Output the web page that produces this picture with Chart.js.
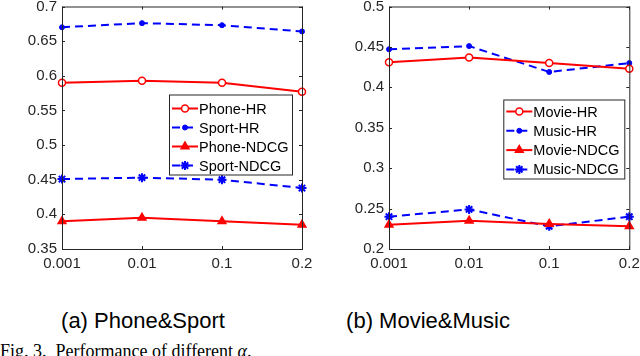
<!DOCTYPE html>
<html>
<head>
<meta charset="utf-8">
<script src="https://cdn.jsdelivr.net/npm/chart.js@4"></script>
<style>
  body { margin: 0; background: #fff; width: 640px; height: 356px; overflow: hidden; position: relative; }
  .box { position: absolute; top: 0; width: 320px; height: 280px; }
  .cap { position: absolute; top: 309px; font: 22px "Liberation Sans", Arial, sans-serif; color: #000; white-space: nowrap; transform: translateX(-50%); line-height: 24px; }
  .fig { position: absolute; left: 0; top: 342px; font: 18px "Liberation Serif", "Times New Roman", serif; color: #000; white-space: nowrap; line-height: 18px; }
</style>
</head>
<body>
<div class="box" style="left:0"><canvas id="chartA" width="320" height="280"></canvas></div>
<div class="box" style="left:320px"><canvas id="chartB" width="320" height="280"></canvas></div>
<div class="cap" style="left:143px">(a) Phone&amp;Sport</div>
<div class="cap" style="left:428px">(b) Movie&amp;Music</div>
<div class="fig">Fig. 3.&nbsp;&nbsp;Performance of different <i>α</i>.</div>
<script>
// alpha values on the x axis
var alphas = ["0.001", "0.01", "0.1", "0.2"];

// (a) Phone & Sport
var phoneHR = [0.590, 0.593, 0.590, 0.577];
var sportHR = [0.670, 0.676, 0.673, 0.664];
var phoneNDCG = [0.390, 0.395, 0.390, 0.385];
var sportNDCG = [0.451, 0.453, 0.450, 0.438];

// (b) Movie & Music
var movieHR = [0.431, 0.437, 0.430, 0.423];
var musicHR = [0.447, 0.451, 0.419, 0.430];
var movieNDCG = [0.230, 0.235, 0.231, 0.228];
var musicNDCG = [0.240, 0.249, 0.228, 0.240];

var RED = "#ff0000";
var BLUE = "#0000ff";
var AXIS = "#262626";
var FONT = "'Liberation Sans', Arial, sans-serif";

function redLine(label, data, style) {
  return {
    label: label, data: data, borderColor: RED, borderWidth: 2,
    pointStyle: style, pointRadius: style == "circle" ? 3.5 : 4.5,
    pointBorderColor: RED, pointBackgroundColor: style == "circle" ? "#fff" : RED,
    pointBorderWidth: 1.5, tension: 0
  };
}

function blueLine(label, data, style) {
  return {
    label: label, data: data, borderColor: BLUE, borderWidth: 2, borderDash: [8, 5],
    pointStyle: style, pointRadius: style == "circle" ? 2.5 : 4.5,
    pointBorderColor: BLUE, pointBackgroundColor: BLUE,
    pointBorderWidth: style == "star" ? 2 : 1, tension: 0
  };
}

// box around plot area with inward ticks, matlab style
var boxPlugin = {
  id: "matlabBox",
  afterDraw: function (chart) {
    var ctx = chart.ctx, a = chart.chartArea;
    var xs = chart.scales.x, ys = chart.scales.y;
    ctx.save();
    ctx.strokeStyle = AXIS;
    ctx.lineWidth = 1;
    ctx.setLineDash([]);
    ctx.strokeRect(a.left + 0.5, a.top + 0.5, a.right - a.left, a.bottom - a.top);
    ctx.beginPath();
    ys.ticks.forEach(function (t) {
      var y = Math.round(ys.getPixelForValue(t.value)) + 0.5;
      ctx.moveTo(a.left, y); ctx.lineTo(a.left + 3, y);
      ctx.moveTo(a.right, y); ctx.lineTo(a.right - 3, y);
    });
    xs.ticks.forEach(function (t, i) {
      var x = Math.round(xs.getPixelForTick(i)) + 0.5;
      ctx.moveTo(x, a.bottom); ctx.lineTo(x, a.bottom - 3);
      ctx.moveTo(x, a.top); ctx.lineTo(x, a.top + 3);
    });
    ctx.stroke();

    // legend box inside the axes
    var o = chart.options.plugins.matlabBox;
    var bx = a.right - o.right - o.width, by = a.top + o.top;
    ctx.fillStyle = "#fff";
    ctx.fillRect(bx, by, o.width, o.height);
    ctx.strokeStyle = AXIS;
    ctx.strokeRect(bx + 0.5, by + 0.5, o.width, o.height);
    ctx.font = "14.5px " + FONT;
    ctx.textBaseline = "middle";
    chart.data.datasets.forEach(function (ds, i) {
      var y = by + o.first + i * o.step;
      ctx.strokeStyle = ds.borderColor;
      ctx.lineWidth = ds.borderWidth;
      ctx.setLineDash(ds.borderDash || []);
      ctx.beginPath();
      ctx.moveTo(bx + 3, y); ctx.lineTo(bx + 29, y);
      ctx.stroke();
      ctx.setLineDash([]);
      ctx.fillStyle = ds.pointBackgroundColor;
      ctx.strokeStyle = ds.pointBorderColor;
      ctx.lineWidth = ds.pointBorderWidth;
      Chart.helpers.drawPoint(ctx, { pointStyle: ds.pointStyle, radius: ds.pointRadius, borderWidth: ds.pointBorderWidth, rotation: 0 }, bx + 16, y);
      ctx.fillStyle = "#000";
      ctx.fillText(ds.label, bx + o.text, y + 1);
    });
    ctx.restore();
  }
};

function makeChart(id, datasets, yMin, yMax, yWidth, padRight, legendBox) {
  var el = document.getElementById(id).getContext("2d");
  return new Chart(el, {
    type: "line",
    data: { labels: alphas, datasets: datasets },
    plugins: [boxPlugin],
    options: {
      responsive: false,
      animation: false,
      layout: { padding: { left: 0, right: padRight, top: 6, bottom: 0 } },
      plugins: { legend: { display: false }, tooltip: { enabled: false }, matlabBox: legendBox },
      scales: {
        x: {
          offset: false,
          grid: { display: false, drawTicks: false },
          border: { display: false },
          ticks: { color: AXIS, font: { family: FONT, size: 15 }, padding: 6, maxRotation: 0, autoSkip: false },
          afterFit: function (s) { s.height = 31; s.paddingLeft = 0; s.paddingRight = 0; }
        },
        y: {
          min: yMin, max: yMax,
          grid: { display: false, drawTicks: false },
          border: { display: false },
          ticks: { color: AXIS, font: { family: FONT, size: 15 }, padding: 5, stepSize: 0.05,
            callback: function (v) { return +v.toFixed(2) + ""; } },
          afterFit: function (s) { s.width = yWidth; s.paddingTop = 0; s.paddingBottom = 0; }
        }
      }
    }
  });
}

makeChart("chartA", [
  redLine("Phone-HR", phoneHR, "circle"),
  blueLine("Sport-HR", sportHR, "circle"),
  redLine("Phone-NDCG", phoneNDCG, "triangle"),
  blueLine("Sport-NDCG", sportNDCG, "star")
], 0.35, 0.7, 62, 18, { right: 10, top: 88, width: 123, height: 80, first: 14, step: 19, text: 30 });

makeChart("chartB", [
  redLine("Movie-HR", movieHR, "circle"),
  blueLine("Music-HR", musicHR, "circle"),
  redLine("Movie-NDCG", movieNDCG, "triangle"),
  blueLine("Music-NDCG", musicNDCG, "star")
], 0.2, 0.5, 69, 10.7, { right: 5, top: 93, width: 121, height: 79, first: 12, step: 19.3, text: 30 });
</script>
</body>
</html>
